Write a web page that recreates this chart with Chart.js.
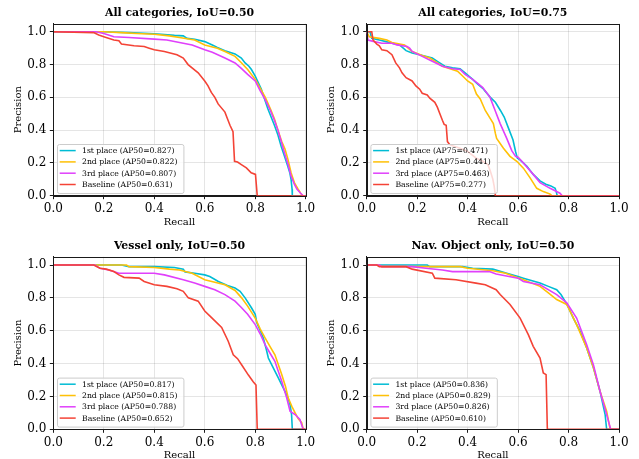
<!DOCTYPE html>
<html><head><meta charset="utf-8">
<script src="https://cdn.jsdelivr.net/npm/chart.js@4/dist/chart.umd.min.js"></script>
<style>
html,body{margin:0;padding:0;background:#fff;overflow:hidden;width:639px;height:459px;}
canvas{position:absolute;left:0;top:0;}
</style></head><body>
<canvas id="c0" width="639" height="480"></canvas>
<canvas id="c1" width="639" height="480"></canvas>
<canvas id="c2" width="639" height="480"></canvas>
<canvas id="c3" width="639" height="480"></canvas>
<script>
// ---------- data ----------
const seriesNames = ['1st place', '2nd place', '3rd place', 'Baseline'];
const tickValues = [0, 0.2, 0.4, 0.6, 0.8, 1.0];
const panelTitles = ['All categories, IoU=0.50', 'All categories, IoU=0.75', 'Vessel only, IoU=0.50', 'Nav. Object only, IoU=0.50'];
const metricNames = ['AP50', 'AP75', 'AP50', 'AP50'];
const apAll50 = [0.827, 0.822, 0.807, 0.631];
const apAll75 = [0.471, 0.441, 0.463, 0.277];
const apVessel50 = [0.817, 0.815, 0.788, 0.652];
const apNav50 = [0.836, 0.829, 0.826, 0.610];

// [recall, precision]
const all50_1st = [[0,1],[0.2,1],[0.3,0.995],[0.4,0.988],[0.48,0.978],[0.515,0.975],[0.53,0.96],[0.56,0.955],[0.6,0.94],[0.63,0.92],[0.65,0.905],[0.68,0.885],[0.72,0.865],[0.745,0.84],[0.76,0.81],[0.775,0.79],[0.785,0.77],[0.8,0.73],[0.812,0.69],[0.824,0.65],[0.837,0.59],[0.85,0.53],[0.863,0.48],[0.876,0.43],[0.89,0.37],[0.903,0.30],[0.916,0.24],[0.929,0.18],[0.937,0.14],[0.942,0.10],[0.946,0.04],[0.947,0],[1,0]];
const all50_2nd = [[0,1],[0.2,1],[0.27,0.995],[0.33,0.99],[0.4,0.985],[0.46,0.975],[0.5,0.965],[0.56,0.95],[0.6,0.92],[0.65,0.90],[0.68,0.88],[0.72,0.85],[0.746,0.81],[0.77,0.77],[0.8,0.71],[0.82,0.655],[0.84,0.60],[0.86,0.53],[0.876,0.47],[0.89,0.40],[0.905,0.33],[0.918,0.285],[0.93,0.22],[0.942,0.14],[0.955,0.08],[0.97,0.04],[0.98,0.015],[0.988,0],[1,0]];
const all50_3rd = [[0,1],[0.17,1],[0.2,0.99],[0.24,0.97],[0.3,0.965],[0.4,0.955],[0.45,0.95],[0.5,0.935],[0.55,0.92],[0.6,0.89],[0.63,0.875],[0.68,0.84],[0.72,0.81],[0.746,0.775],[0.77,0.74],[0.8,0.70],[0.82,0.64],[0.84,0.585],[0.86,0.52],[0.876,0.46],[0.89,0.40],[0.905,0.32],[0.92,0.24],[0.93,0.19],[0.942,0.12],[0.955,0.07],[0.965,0.04],[0.98,0.015],[0.99,0],[1,0]];
const all50_base = [[0,1],[0.16,0.995],[0.18,0.98],[0.2,0.97],[0.24,0.95],[0.26,0.945],[0.27,0.925],[0.32,0.915],[0.36,0.91],[0.38,0.90],[0.4,0.89],[0.44,0.88],[0.49,0.86],[0.515,0.84],[0.534,0.80],[0.574,0.75],[0.6,0.70],[0.613,0.67],[0.626,0.63],[0.64,0.60],[0.653,0.56],[0.68,0.51],[0.69,0.47],[0.70,0.43],[0.712,0.39],[0.718,0.21],[0.73,0.205],[0.745,0.19],[0.765,0.17],[0.784,0.14],[0.801,0.13],[0.808,0],[1,0]];

const all75_1st = [[0,1],[0.013,1],[0.02,0.96],[0.05,0.95],[0.077,0.94],[0.1,0.93],[0.13,0.92],[0.145,0.90],[0.156,0.885],[0.18,0.87],[0.21,0.86],[0.26,0.84],[0.28,0.82],[0.31,0.79],[0.34,0.78],[0.37,0.775],[0.39,0.75],[0.42,0.71],[0.44,0.68],[0.46,0.655],[0.49,0.60],[0.51,0.57],[0.53,0.52],[0.545,0.48],[0.56,0.42],[0.58,0.34],[0.59,0.27],[0.597,0.23],[0.61,0.215],[0.635,0.18],[0.66,0.13],[0.687,0.09],[0.71,0.07],[0.73,0.06],[0.747,0.045],[0.752,0.02],[0.755,0],[1,0]];
const all75_2nd = [[0,1],[0.01,0.97],[0.05,0.96],[0.08,0.95],[0.1,0.935],[0.15,0.92],[0.18,0.88],[0.22,0.855],[0.25,0.84],[0.28,0.81],[0.3,0.79],[0.33,0.775],[0.36,0.76],[0.38,0.73],[0.4,0.70],[0.42,0.68],[0.435,0.62],[0.45,0.59],[0.47,0.52],[0.49,0.47],[0.502,0.44],[0.51,0.38],[0.515,0.35],[0.542,0.29],[0.568,0.24],[0.595,0.21],[0.621,0.168],[0.647,0.11],[0.674,0.045],[0.7,0.025],[0.727,0.01],[0.73,0],[1,0]];
const all75_3rd = [[0,1],[0.005,0.95],[0.03,0.94],[0.06,0.93],[0.1,0.93],[0.12,0.92],[0.16,0.91],[0.17,0.90],[0.18,0.88],[0.22,0.85],[0.26,0.82],[0.3,0.79],[0.34,0.775],[0.37,0.77],[0.39,0.74],[0.42,0.71],[0.44,0.685],[0.46,0.66],[0.489,0.60],[0.509,0.52],[0.529,0.44],[0.555,0.35],[0.575,0.275],[0.59,0.24],[0.6,0.235],[0.621,0.20],[0.66,0.13],[0.687,0.08],[0.727,0.045],[0.766,0.015],[0.775,0],[1,0]];
const all75_base = [[0,1],[0.02,1],[0.025,0.95],[0.04,0.925],[0.05,0.915],[0.06,0.89],[0.08,0.885],[0.1,0.86],[0.115,0.81],[0.13,0.78],[0.14,0.75],[0.156,0.72],[0.18,0.70],[0.195,0.67],[0.21,0.65],[0.22,0.625],[0.24,0.615],[0.25,0.595],[0.27,0.57],[0.28,0.54],[0.29,0.50],[0.3,0.46],[0.307,0.435],[0.315,0.43],[0.32,0.33],[0.33,0.31],[0.37,0.29],[0.4,0.27],[0.433,0.23],[0.46,0.21],[0.48,0.19],[0.49,0.15],[0.5,0.10],[0.505,0.06],[0.51,0],[1,0]];

const vessel50_1st = [[0,1],[0.27,1],[0.3,0.99],[0.4,0.99],[0.48,0.985],[0.515,0.975],[0.522,0.958],[0.56,0.95],[0.6,0.94],[0.62,0.93],[0.654,0.90],[0.69,0.875],[0.72,0.86],[0.74,0.84],[0.76,0.80],[0.785,0.74],[0.8,0.70],[0.806,0.65],[0.82,0.60],[0.832,0.556],[0.845,0.48],[0.852,0.434],[0.872,0.373],[0.892,0.312],[0.905,0.27],[0.918,0.231],[0.93,0.19],[0.938,0.15],[0.944,0.09],[0.947,0],[1,0]];
const vessel50_2nd = [[0,1],[0.29,1],[0.3,0.99],[0.4,0.985],[0.46,0.975],[0.5,0.97],[0.55,0.95],[0.6,0.91],[0.64,0.895],[0.68,0.88],[0.72,0.845],[0.746,0.80],[0.77,0.75],[0.8,0.677],[0.82,0.61],[0.839,0.556],[0.86,0.50],[0.878,0.454],[0.89,0.40],[0.905,0.333],[0.92,0.26],[0.931,0.19],[0.945,0.14],[0.958,0.10],[0.97,0.065],[0.984,0.04],[0.99,0],[1,0]];
const vessel50_3rd = [[0,1],[0.165,1],[0.185,0.98],[0.22,0.97],[0.26,0.95],[0.4,0.95],[0.44,0.94],[0.515,0.91],[0.56,0.89],[0.6,0.87],[0.64,0.85],[0.68,0.82],[0.72,0.78],[0.746,0.74],[0.77,0.70],[0.8,0.637],[0.82,0.58],[0.839,0.515],[0.86,0.46],[0.878,0.414],[0.89,0.36],[0.905,0.293],[0.915,0.24],[0.925,0.19],[0.938,0.11],[0.958,0.09],[0.977,0.06],[0.99,0],[1,0]];
const vessel50_base = [[0,1],[0.16,1],[0.185,0.98],[0.21,0.975],[0.24,0.96],[0.26,0.94],[0.28,0.925],[0.34,0.92],[0.36,0.90],[0.4,0.88],[0.45,0.87],[0.49,0.855],[0.515,0.84],[0.535,0.80],[0.574,0.78],[0.6,0.72],[0.627,0.68],[0.667,0.62],[0.693,0.536],[0.713,0.454],[0.73,0.43],[0.746,0.393],[0.773,0.33],[0.792,0.29],[0.803,0.27],[0.808,0],[1,0]];

const nav50_1st = [[0,1],[0.24,1],[0.25,0.99],[0.38,0.99],[0.42,0.98],[0.5,0.975],[0.555,0.95],[0.6,0.93],[0.621,0.92],[0.687,0.89],[0.72,0.87],[0.753,0.85],[0.77,0.82],[0.786,0.78],[0.8,0.74],[0.819,0.677],[0.846,0.596],[0.872,0.495],[0.899,0.373],[0.925,0.23],[0.945,0.09],[0.951,0],[1,0]];
const nav50_2nd = [[0,1],[0.05,1],[0.06,0.99],[0.37,0.99],[0.4,0.98],[0.5,0.965],[0.55,0.95],[0.621,0.91],[0.687,0.87],[0.72,0.83],[0.753,0.79],[0.793,0.76],[0.832,0.637],[0.872,0.495],[0.899,0.373],[0.925,0.23],[0.951,0.11],[0.965,0],[1,0]];
const nav50_3rd = [[0,1],[0.05,1],[0.06,0.99],[0.18,0.99],[0.235,0.98],[0.3,0.97],[0.34,0.96],[0.486,0.96],[0.513,0.945],[0.6,0.92],[0.621,0.90],[0.687,0.88],[0.753,0.82],[0.793,0.77],[0.832,0.677],[0.872,0.515],[0.899,0.39],[0.925,0.23],[0.951,0.09],[0.967,0],[1,0]];
const nav50_base = [[0,1],[0.04,1],[0.05,0.99],[0.156,0.99],[0.18,0.975],[0.26,0.95],[0.27,0.92],[0.354,0.91],[0.433,0.89],[0.47,0.88],[0.513,0.85],[0.529,0.82],[0.568,0.76],[0.608,0.677],[0.641,0.575],[0.66,0.505],[0.687,0.434],[0.70,0.343],[0.711,0.333],[0.716,0],[1,0]];

// ---------- styling / layout ----------
const seriesColors = ['#00BCD4', '#FFC107', '#E040FB', '#F44336'];
const FONT = '"DejaVu Serif", serif';
const CANVAS_W = 639, CANVAS_H = 480;
const panels = [
  { title: panelTitles[0], metric: metricNames[0], ap: apAll50, series: [all50_1st, all50_2nd, all50_3rd, all50_base], area: { l: 53.3, r: 305.7, t: 23.6, b: 195.7 } },
  { title: panelTitles[1], metric: metricNames[1], ap: apAll75, series: [all75_1st, all75_2nd, all75_3rd, all75_base], area: { l: 366.7, r: 619, t: 23.6, b: 195.7 } },
  { title: panelTitles[2], metric: metricNames[2], ap: apVessel50, series: [vessel50_1st, vessel50_2nd, vessel50_3rd, vessel50_base], area: { l: 53.3, r: 305.7, t: 256.8, b: 429.3 } },
  { title: panelTitles[3], metric: metricNames[3], ap: apNav50, series: [nav50_1st, nav50_2nd, nav50_3rd, nav50_base], area: { l: 366.7, r: 619, t: 256.8, b: 429.3 } }
];
const Y_AXIS_W = 45, X_AXIS_H = 34;

const decorPlugin = {
  id: 'decor',
  afterDatasetsDraw(chart, args, opts) {
    const ctx = chart.ctx, a = chart.chartArea;
    ctx.save();
    // spines
    ctx.strokeStyle = '#1a1a1a';
    ctx.lineWidth = 1;
    ctx.strokeRect(Math.round(a.left) + 0.5, Math.round(a.top) + 0.5, Math.round(a.right) - Math.round(a.left), Math.round(a.bottom) - Math.round(a.top));
    // legend
    ctx.font = '7.7px ' + FONT;
    const ds = chart.data.datasets;
    let maxW = 0;
    ds.forEach(d => { maxW = Math.max(maxW, ctx.measureText(d.label).width); });
    const bx = a.left + 3.7, bh = 49, by = a.bottom - 2.7 - bh;
    const bw = 25 + maxW + 6;
    ctx.beginPath();
    if (ctx.roundRect) ctx.roundRect(bx + 0.5, by + 0.5, bw, bh, 2); else ctx.rect(bx + 0.5, by + 0.5, bw, bh);
    ctx.fillStyle = 'rgba(255,255,255,0.8)';
    ctx.fill();
    ctx.strokeStyle = '#cccccc';
    ctx.lineWidth = 1;
    ctx.stroke();
    ds.forEach((d, i) => {
      const y = by + 6.6 + 11.3 * i;
      ctx.beginPath();
      ctx.strokeStyle = d.borderColor;
      ctx.lineWidth = 1.5;
      ctx.moveTo(bx + 2.7, y);
      ctx.lineTo(bx + 18.7, y);
      ctx.stroke();
      ctx.fillStyle = '#000';
      ctx.textAlign = 'left';
      ctx.textBaseline = 'middle';
      ctx.fillText(d.label, bx + 25, y + 0.5);
    });
    // title
    ctx.font = 'bold 10.9px ' + FONT;
    ctx.fillStyle = '#000';
    ctx.textAlign = 'center';
    ctx.textBaseline = 'middle';
    ctx.fillText(opts.title, (a.left + a.right) / 2, a.top - 10.5);
    ctx.restore();
  }
};

function tickAxis(minV, maxV, titleText, isY) {
  return {
    type: 'linear', min: minV, max: maxV,
    afterBuildTicks: s => { s.ticks = tickValues.map(v => ({ value: v })); },
    afterFit: s => { if (isY) s.width = Y_AXIS_W; else s.height = X_AXIS_H; },
    ticks: { font: { family: FONT, size: 12 }, color: '#000', padding: isY ? 3.5 : 2.5, callback: v => Number(v).toFixed(1), maxRotation: 0, autoSkip: false },
    grid: { color: 'rgba(0,0,0,0.1)', lineWidth: 1, drawTicks: true, tickLength: 3.5, tickColor: '#1a1a1a', tickWidth: 1 },
    border: { display: true, color: '#1a1a1a', width: 1 },
    title: { display: true, text: titleText, color: '#000', font: { family: FONT, size: 10, lineHeight: 1.2 }, padding: isY ? { top: 4, bottom: 0 } : { top: 0, bottom: 1.7 } }
  };
}

panels.forEach((p, k) => {
  const datasets = p.series.map((s, i) => ({
    label: seriesNames[i] + ' (' + p.metric + '=' + p.ap[i].toFixed(3) + ')',
    data: s.map(pt => ({ x: pt[0], y: pt[1] })),
    borderColor: seriesColors[i],
    backgroundColor: seriesColors[i],
    borderWidth: 1.6,
    pointRadius: 0,
    tension: 0,
    fill: false,
    order: 3 - i
  }));
  new Chart(document.getElementById('c' + k), {
    type: 'line',
    data: { datasets },
    options: {
      responsive: false, animation: false, devicePixelRatio: 1,
      layout: { padding: { left: p.area.l - Y_AXIS_W, right: CANVAS_W - p.area.r, top: p.area.t, bottom: CANVAS_H - p.area.b - X_AXIS_H } },
      plugins: { legend: { display: false }, tooltip: { enabled: false }, title: { display: false }, decor: { title: p.title } },
      scales: { x: tickAxis(0, 1, 'Recall', false), y: tickAxis(0, 1.05, 'Precision', true) }
    },
    plugins: [decorPlugin]
  });
});
</script>
</body></html>
